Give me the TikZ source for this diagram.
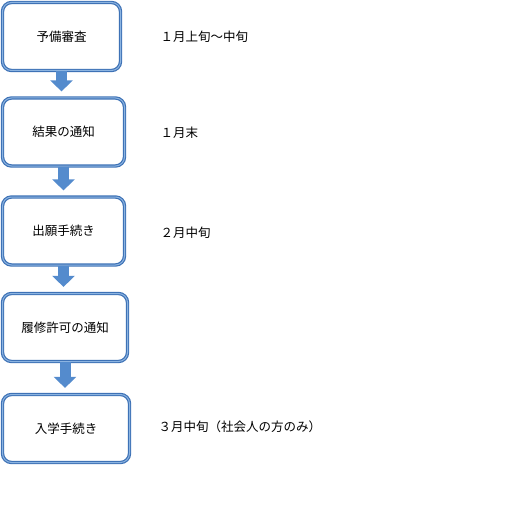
\documentclass[tikz,border=0pt]{standalone}
\usepackage{fontspec}
\setmainfont{Noto Sans CJK JP}
\usetikzlibrary{arrows.meta, positioning}

\definecolor{boxblue}{RGB}{62,114,182}
\definecolor{boxlight}{RGB}{140,180,225}
\definecolor{arrowblue}{RGB}{84,139,205}

\begin{document}
\begin{tikzpicture}[
  x=1pt,y=-1pt,
  stepbox/.style={rectangle,draw=boxblue,double=boxlight,double distance=1pt,line width=1.2pt,
    rounded corners=9pt,fill=white,minimum height=68pt,align=center,font=\fontsize{12.5}{15}\selectfont},
  when/.style={anchor=west,font=\fontsize{12.5}{15}\selectfont},
  fl/.style={draw=arrowblue,line width=11pt,-{Triangle[length=11pt,width=22pt]},shorten >=6pt}
]
  \useasboundingbox (0,0) rectangle (513,513);

  \node[stepbox,minimum width=118pt](yobi)   at (61.5,36.5) {予備審査};
  \node[stepbox,minimum width=122pt](kekka)  at (63.5,132)  {結果の通知};
  \node[stepbox,minimum width=122pt](shutsu) at (63.5,231)  {出願手続き};
  \node[stepbox,minimum width=125pt](rishu)  at (65,327.5)  {履修許可の通知};
  \node[stepbox,minimum width=127pt](nyu)    at (66,428.5)  {入学手続き};

  \node[when](t1) at (157,37)  {１月上旬～中旬};
  \node[when](t2) at (157,133) {１月末};
  \node[when](t3) at (157,233) {２月中旬};
  \node[when](t5) at (155,427) {３月中旬（社会人の方のみ）};

  \draw[fl](yobi.south)--(yobi.south |- kekka.north);
  \draw[fl](kekka.south)--(kekka.south |- shutsu.north);
  \draw[fl](shutsu.south)--(shutsu.south |- rishu.north);
  \draw[fl](rishu.south)--(rishu.south |- nyu.north);
\end{tikzpicture}
\end{document}
